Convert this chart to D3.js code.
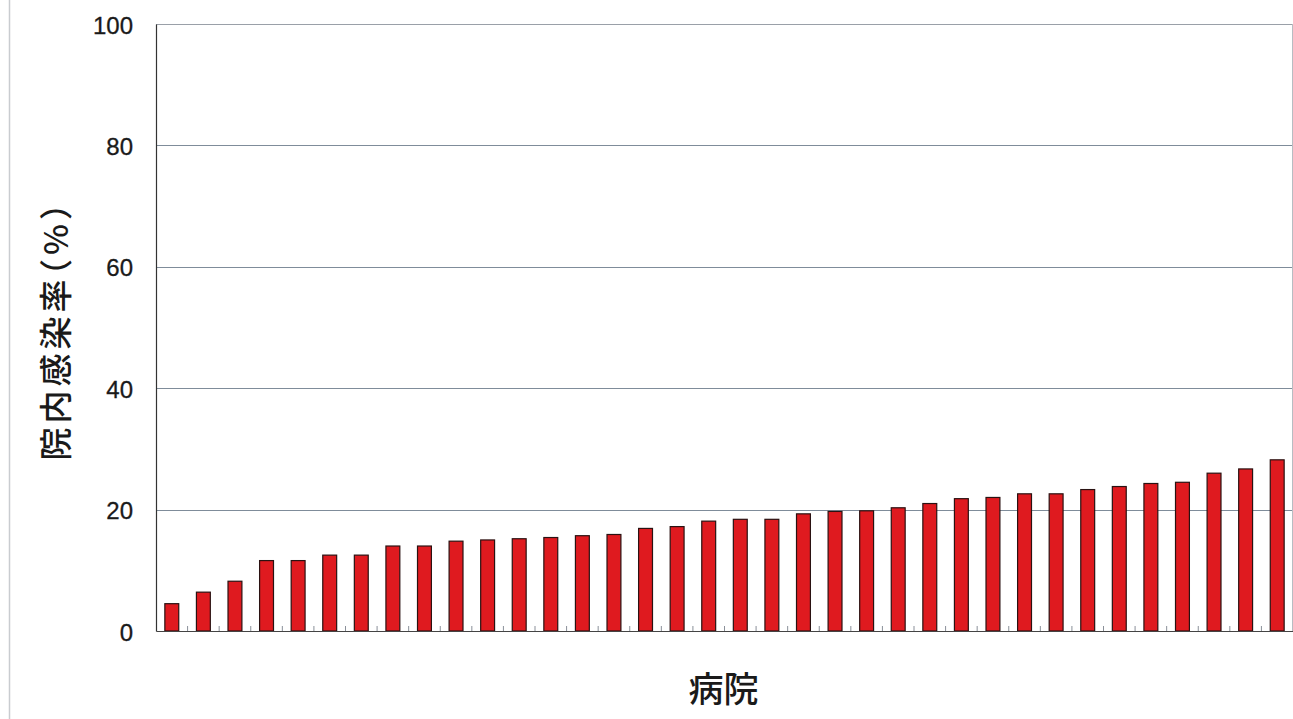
<!DOCTYPE html>
<html><head><meta charset="utf-8">
<script src="https://cdn.jsdelivr.net/npm/d3@7"></script>
<style>
html,body{margin:0;padding:0;background:#fff;}
svg{display:block;}
.ytitle{font-feature-settings:"halt" 1;}
</style>
</head><body>
<svg id="chart" width="1293" height="719"></svg>
<script>
const hospitals = d3.range(1, 37).map(i => "H" + i);
const rates = [4.5, 6.4, 8.2, 11.6, 11.6, 12.5, 12.5, 14.0, 14.0, 14.8, 15.0, 15.2,
  15.4, 15.7, 15.9, 16.9, 17.2, 18.1, 18.4, 18.4, 19.3, 19.7, 19.8, 20.3,
  21.0, 21.8, 22.0, 22.6, 22.6, 23.3, 23.8, 24.3, 24.5, 26.0, 26.7, 28.2];
const yTicks = [0, 20, 40, 60, 80, 100];
const yTitle = "院内感染率（%）";
const xTitle = "病院";

const svg = d3.select("#chart");
const m = {left: 156, right: 1293, top: 24, bottom: 631};

const x = d3.scaleBand().domain(hospitals).range([m.left, m.right])
  .paddingInner(0.56).paddingOuter(0.28);
const y = d3.scaleLinear().domain([0, 100]).range([m.bottom, m.top]);

// page left border
svg.append("line").attr("x1", 9.5).attr("x2", 9.5).attr("y1", 0).attr("y2", 719)
  .attr("stroke", "#c9ccd0").attr("stroke-width", 1.5);

// gridlines
svg.append("g").selectAll("line").data(yTicks.filter(d => d > 0)).join("line")
  .attr("x1", m.left).attr("x2", m.right)
  .attr("y1", d => Math.round(y(d)) + 0.5).attr("y2", d => Math.round(y(d)) + 0.5)
  .attr("stroke", d => d === 100 ? "#9aa0a8" : "#7f8c9a").attr("stroke-width", 1);

// right border
svg.append("line").attr("x1", m.right - 0.5).attr("x2", m.right - 0.5)
  .attr("y1", y(100)).attr("y2", y(0)).attr("stroke", "#b8bcc2");

// y axis
const yAxis = d3.axisLeft(y).tickValues(yTicks).tickSize(0).tickPadding(23);
const gy = svg.append("g").attr("transform", `translate(${m.left},0)`).call(yAxis);
gy.select(".domain").attr("stroke", "#333").attr("stroke-width", 1.2);
gy.selectAll("text").attr("font-family", "Liberation Sans, Arial, sans-serif")
  .attr("font-size", 24).attr("fill", "#1a1a1a").attr("dy", "0.38em")
  .attr("stroke", "#1a1a1a").attr("stroke-width", 0.3);

// bars
svg.append("g").selectAll("rect").data(rates).join("rect")
  .attr("x", (d, i) => x(hospitals[i]))
  .attr("y", d => y(d))
  .attr("width", x.bandwidth())
  .attr("height", d => y(0) - y(d))
  .attr("fill", "#df1a1f").attr("stroke", "#2a1212").attr("stroke-width", 1.2);

// x axis baseline
const xAxis = d3.axisBottom(x).tickSize(0).tickFormat("");
const gx = svg.append("g").attr("transform", `translate(0,${y(0)})`).call(xAxis);
gx.select(".domain").attr("stroke", "#444").attr("stroke-width", 1.2);

// inner ticks at band boundaries
const step = x.step();
svg.append("g").selectAll("line").data(hospitals.slice(1)).join("line")
  .attr("x1", d => x(d) - step * x.paddingInner() / 2)
  .attr("x2", d => x(d) - step * x.paddingInner() / 2)
  .attr("y1", y(0)).attr("y2", y(0) - 5)
  .attr("stroke", "#8a9099").attr("stroke-width", 1);

// titles
svg.append("text").attr("class", "ytitle")
  .attr("transform", `translate(54,${(198 + 458) / 2 + 2}) rotate(-90)`)
  .attr("text-anchor", "middle").attr("dominant-baseline", "central")
  .attr("font-family", "Noto Sans CJK JP, sans-serif").attr("font-size", 33)
  .attr("letter-spacing", 4)
  .attr("font-weight", 500).attr("fill", "#1a1a1a")
  .text(yTitle);

svg.append("text")
  .attr("x", (m.left + m.right) / 2 - 1).attr("y", 686)
  .attr("text-anchor", "middle").attr("dominant-baseline", "central")
  .attr("font-family", "Noto Sans CJK JP, sans-serif").attr("font-size", 35)
  .attr("font-weight", 500).attr("fill", "#1a1a1a")
  .text(xTitle);
</script>
</body></html>
